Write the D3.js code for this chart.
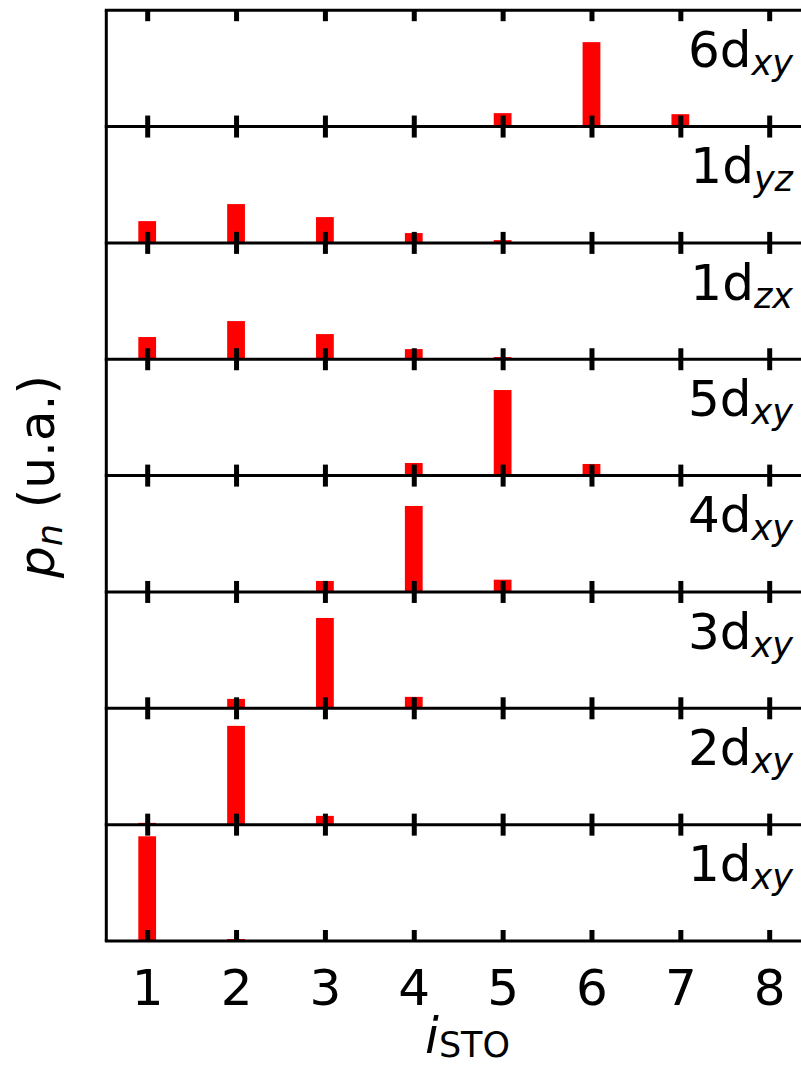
<!DOCTYPE html>
<html>
<head>
<meta charset="utf-8">
<script src="https://cdn.jsdelivr.net/npm/d3@7"></script>
<style>
  html, body { margin: 0; padding: 0; background: #fff; }
  svg { display: block; font-family: "DejaVu Sans", sans-serif; }
</style>
</head>
<body>
<svg id="chart" width="801" height="1068"></svg>
<script>
// ---------- data ----------
const sites = [1, 2, 3, 4, 5, 6, 7, 8];
const xTickLabels = ["1", "2", "3", "4", "5", "6", "7", "8"];
// panels from top to bottom
const panelMain = ["6d", "1d", "1d", "5d", "4d", "3d", "2d", "1d"];
const panelSub  = ["xy", "yz", "zx", "xy", "xy", "xy", "xy", "xy"];
const p6dxy = [0, 0, 0, 0, 0.127, 0.798, 0.117, 0];
const p1dyz = [0.206, 0.367, 0.244, 0.093, 0.026, 0, 0, 0];
const p1dzx = [0.210, 0.361, 0.238, 0.096, 0.021, 0, 0, 0];
const p5dxy = [0, 0, 0, 0.119, 0.809, 0.110, 0, 0];
const p4dxy = [0, 0, 0.104, 0.813, 0.116, 0, 0, 0];
const p3dxy = [0, 0.089, 0.854, 0.108, 0, 0, 0, 0];
const p2dxy = [0.017, 0.934, 0.083, 0, 0, 0, 0, 0];
const p1dxy = [0.990, 0.019, 0, 0, 0, 0, 0, 0];
const panelValues = [p6dxy, p1dyz, p1dzx, p5dxy, p4dxy, p3dxy, p2dxy, p1dxy];

(function () {
// ---------- layout ----------
const svg = d3.select("#chart");
const mLeft = 106.3, mRight = 829, mTop = 10.2, mBottom = 941;
const nP = panelValues.length;
const pH = (mBottom - mTop) / nP;
const barW = 0.2;

const x = d3.scaleLinear().domain([1, 8]).range([147.2, 769.2]);
const y = d3.scaleLinear().domain([0, 1.1]).range([pH, 0]);

const tickLen = 11, tickW = 5, spineW = 3;

panelValues.forEach((vals, i) => {
  const g = svg.append("g").attr("transform", `translate(0,${mTop + i * pH})`);
  // bars
  g.selectAll("rect.bar").data(vals.map((v, k) => ({ s: sites[k], v })))
    .join("rect")
    .attr("class", "bar")
    .attr("x", d => x(d.s - barW / 2))
    .attr("width", d => x(d.s + barW / 2) - x(d.s - barW / 2))
    .attr("y", d => y(d.v))
    .attr("height", d => y(0) - y(d.v))
    .attr("fill", "#ff0000");

  // ticks (inward) on top and bottom
  const axTop = d3.axisTop(x).tickValues(sites).tickSizeInner(-tickLen).tickSizeOuter(0).tickFormat("");
  const axBot = d3.axisBottom(x).tickValues(sites).tickSizeInner(-tickLen).tickSizeOuter(0).tickFormat("");
  const gt = g.append("g").call(axTop);
  const gb = g.append("g").attr("transform", `translate(0,${pH})`).call(axBot);
  [gt, gb].forEach(a => {
    a.select(".domain").remove();
    a.selectAll(".tick line").attr("stroke", "#000").attr("stroke-width", tickW);
  });

  // label
  const t = g.append("text")
    .attr("x", 793)
    .attr("y", 56.8)
    .attr("text-anchor", "end")
    .attr("font-size", 50)
    .attr("fill", "#000");
  t.append("tspan").text(panelMain[i]);
  t.append("tspan").attr("font-style", "italic").attr("font-size", 35).attr("dy", 8).text(panelSub[i]);
});

// spines
const spines = svg.append("g").attr("stroke", "#000").attr("stroke-width", spineW);
d3.range(nP + 1).forEach(i => {
  const yy = mTop + i * pH;
  spines.append("line").attr("x1", mLeft - spineW / 2).attr("x2", mRight).attr("y1", yy).attr("y2", yy);
});
spines.append("line").attr("x1", mLeft).attr("x2", mLeft).attr("y1", mTop).attr("y2", mBottom);

// x tick labels
const xAxis = d3.axisBottom(x).tickValues(sites).tickSize(0)
  .tickFormat((d, k) => xTickLabels[k]);
const gx = svg.append("g").attr("transform", `translate(0,${mBottom})`).call(xAxis);
gx.select(".domain").remove();
gx.selectAll(".tick text")
  .attr("y", 64).attr("dy", null)
  .attr("font-size", 50)
  .attr("font-family", "DejaVu Sans, sans-serif")
  .attr("fill", "#000");

// x label
const xl = svg.append("text")
  .attr("x", 467.5).attr("y", 1053)
  .attr("text-anchor", "middle")
  .attr("font-size", 50).attr("fill", "#000");
xl.append("tspan").attr("font-style", "italic").text("i");
xl.append("tspan").attr("font-size", 35).attr("dy", 4).text("STO");

// y label
const yl = svg.append("text")
  .attr("transform", "translate(53.5,476.5) rotate(-90)")
  .attr("text-anchor", "middle")
  .attr("font-size", 50).attr("fill", "#000");
yl.append("tspan").attr("font-style", "italic").text("p");
yl.append("tspan").attr("font-style", "italic").attr("font-size", 35).attr("dy", 8).text("n");
yl.append("tspan").attr("dy", -8).text("\u00a0(u.a.)");
})();
</script>
</body>
</html>
